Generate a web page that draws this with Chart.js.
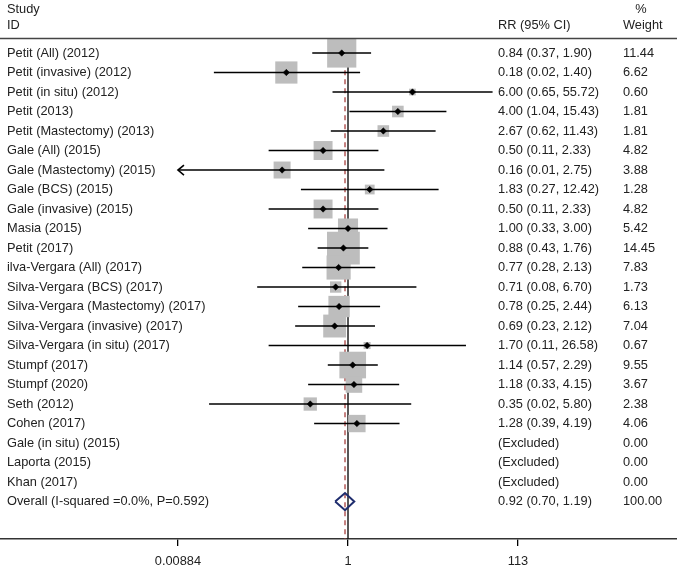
<!DOCTYPE html>
<html>
<head>
<meta charset="utf-8">
<script src="https://cdn.jsdelivr.net/npm/chart.js@4.4.1/dist/chart.umd.min.js"></script>
<style>
  html, body { margin: 0; padding: 0; background: #fff; }
  #wrap { width: 677px; height: 568px; }
</style>
</head>
<body>
<div id="wrap"><canvas id="forest"></canvas></div>
<script>
// Study rows (top to bottom)
const studies = [
  'Petit (All) (2012)', 'Petit (invasive) (2012)', 'Petit (in situ) (2012)', 'Petit (2013)',
  'Petit (Mastectomy) (2013)', 'Gale (All) (2015)', 'Gale (Mastectomy) (2015)', 'Gale (BCS) (2015)',
  'Gale (invasive) (2015)', 'Masia (2015)', 'Petit (2017)', 'ilva-Vergara (All) (2017)',
  'Silva-Vergara (BCS) (2017)', 'Silva-Vergara (Mastectomy) (2017)', 'Silva-Vergara (invasive) (2017)',
  'Silva-Vergara (in situ) (2017)', 'Stumpf (2017)', 'Stumpf (2020)', 'Seth (2012)', 'Cohen (2017)',
  'Gale (in situ) (2015)', 'Laporta (2015)', 'Khan (2017)'
];
// RR and 95% CI (null = excluded)
const rr    = [0.84, 0.18, 6.00, 4.00, 2.67, 0.50, 0.16, 1.83, 0.50, 1.00, 0.88, 0.77, 0.71, 0.78, 0.69, 1.70, 1.14, 1.18, 0.35, 1.28, null, null, null];
const lower = [0.37, 0.024, 0.65, 1.04, 0.62, 0.11, 0.008, 0.27, 0.11, 0.33, 0.43, 0.28, 0.08, 0.25, 0.23, 0.11, 0.57, 0.33, 0.021, 0.39, null, null, null];
const upper = [1.90, 1.40, 55.72, 15.43, 11.43, 2.33, 2.75, 12.42, 2.33, 3.00, 1.76, 2.13, 6.70, 2.44, 2.12, 26.58, 2.29, 4.15, 5.80, 4.19, null, null, null];
const weights = [11.44, 6.62, 0.60, 1.81, 1.81, 4.82, 3.88, 1.28, 4.82, 5.42, 14.45, 7.83, 1.73, 6.13, 7.04, 0.67, 9.55, 3.67, 2.38, 4.06, 0.00, 0.00, 0.00];

// Pooled estimate
const overallLabel = 'Overall (I-squared =0.0%, P=0.592)';
const overallRR = 0.92;
const overallLower = 0.70;
const overallUpper = 1.19;
const overallWeight = 100.00;

// Axis ticks
const xTicks = [0.00884, 1, 113];

const nRows = studies.length;            // overall sits in row nRows
const clipMin = xTicks[0];
const clipMax = xTicks[xTicks.length - 1];
const yMin = -2.718, yMax = 24.92;
const FONT = "'Liberation Sans', Arial, Helvetica, sans-serif";
const FSIZE = 12.8;

const fmt = v => v.toFixed(2);

// datasets
const datasets = [];

// null line at RR = 1
datasets.push({
  type: 'line', data: [{ x: 1, y: -0.5 }, { x: 1, y: yMax }],
  borderColor: '#111', borderWidth: 1.4, pointRadius: 0, order: 20
});
// dashed line at overall estimate
datasets.push({
  type: 'line', data: [{ x: overallRR, y: -0.5 }, { x: overallRR, y: yMax }],
  borderColor: '#a8403f', borderWidth: 1.3, borderDash: [5, 4], pointRadius: 0, order: 19
});
// weight boxes (area ~ weight)
datasets.push({
  type: 'scatter',
  data: rr.map((v, i) => v == null ? null : { x: v, y: i }).filter(Boolean),
  pointStyle: 'rect',
  pointRadius: rr.map((v, i) => 6.1 * Math.sqrt(weights[i])).filter((r, i) => rr[i] != null),
  pointBackgroundColor: '#bdbdbd', pointBorderWidth: 0, pointBorderColor: 'rgba(0,0,0,0)',
  order: 10
});
// CI whiskers
rr.forEach((v, i) => {
  if (v == null) return;
  datasets.push({
    type: 'line',
    data: [{ x: Math.max(lower[i], clipMin), y: i }, { x: Math.min(upper[i], clipMax), y: i }],
    borderColor: '#000', borderWidth: 1.6, pointRadius: 0, order: 5
  });
});
// point estimates
datasets.push({
  type: 'scatter',
  data: rr.map((v, i) => v == null ? null : { x: v, y: i }).filter(Boolean),
  pointStyle: 'rectRot', pointRadius: 3.2,
  pointBackgroundColor: '#000', pointBorderColor: '#000', pointBorderWidth: 0.5,
  order: 2
});
// overall diamond
datasets.push({
  type: 'line',
  data: [
    { x: overallLower, y: nRows }, { x: overallRR, y: nRows - 0.44 },
    { x: overallUpper, y: nRows }, { x: overallRR, y: nRows + 0.44 },
    { x: overallLower, y: nRows }
  ],
  borderColor: '#1f2d6e', borderWidth: 2, pointRadius: 0, fill: false, tension: 0, order: 1
});

// text columns, header, arrows
const tablePlugin = {
  id: 'table',
  afterDatasetsDraw(chart) {
    const ctx = chart.ctx;
    const xs = chart.scales.x, ys = chart.scales.y;
    // arrows for clipped intervals
    ctx.save();
    ctx.strokeStyle = '#000';
    ctx.lineWidth = 1.6;
    rr.forEach((v, i) => {
      if (v == null) return;
      const py = ys.getPixelForValue(i);
      if (lower[i] < clipMin) {
        const px = xs.getPixelForValue(clipMin);
        ctx.beginPath();
        ctx.moveTo(px + 6, py - 5); ctx.lineTo(px, py); ctx.lineTo(px + 6, py + 5);
        ctx.stroke();
      }
      if (upper[i] > clipMax) {
        const px = xs.getPixelForValue(clipMax);
        ctx.beginPath();
        ctx.moveTo(px - 6, py - 5); ctx.lineTo(px, py); ctx.lineTo(px - 6, py + 5);
        ctx.stroke();
      }
    });
    ctx.restore();
  },
  afterDraw(chart) {
    const ctx = chart.ctx;
    const ys = chart.scales.y;
    const W = chart.width;
    const colName = 7, colRR = 498, colW = 623;
    ctx.save();
    ctx.font = FSIZE + 'px ' + FONT;
    ctx.fillStyle = '#222';
    ctx.textBaseline = 'middle';
    ctx.textAlign = 'left';
    // header
    ctx.fillText('Study', colName, ys.getPixelForValue(-2.25));
    ctx.fillText('ID', colName, ys.getPixelForValue(-1.4));
    ctx.fillText('RR (95% CI)', colRR, ys.getPixelForValue(-1.4));
    ctx.fillText('Weight', colW, ys.getPixelForValue(-1.4));
    ctx.textAlign = 'center';
    ctx.fillText('%', 641, ys.getPixelForValue(-2.25));
    ctx.textAlign = 'left';
    // header rule
    ctx.strokeStyle = '#444';
    ctx.lineWidth = 1.4;
    const hy = Math.round(ys.getPixelForValue(-0.77)) + 0.5;
    ctx.beginPath(); ctx.moveTo(0, hy); ctx.lineTo(W, hy); ctx.stroke();
    // rows
    studies.forEach((s, i) => {
      const py = ys.getPixelForValue(i);
      ctx.fillText(s, colName, py);
      const ci = rr[i] == null ? '(Excluded)' : `${fmt(rr[i])} (${fmt(lower[i])}, ${fmt(upper[i])})`;
      ctx.fillText(ci, colRR, py);
      ctx.fillText(fmt(weights[i]), colW, py);
    });
    const oy = ys.getPixelForValue(nRows);
    ctx.fillText(overallLabel, colName, oy);
    ctx.fillText(`${fmt(overallRR)} (${fmt(overallLower)}, ${fmt(overallUpper)})`, colRR, oy);
    ctx.fillText(fmt(overallWeight), colW, oy);
    ctx.restore();
  }
};

new Chart(document.getElementById('forest'), {
  data: { datasets: datasets },
  options: {
    responsive: true,
    maintainAspectRatio: false,
    animation: false,
    layout: { padding: 0, autoPadding: false },
    plugins: { legend: { display: false }, tooltip: { enabled: false } },
    scales: {
      x: {
        type: 'logarithmic',
        min: 6.27e-5,
        max: 9400,
        afterBuildTicks: scale => { scale.ticks = xTicks.map(v => ({ value: v })); },
        afterFit: scale => { scale.paddingLeft = 0; scale.paddingRight = 0; scale.height = 29; },
        ticks: {
          autoSkip: false, maxRotation: 0, padding: 8,
          color: '#222', font: { family: FONT, size: FSIZE },
          callback: v => String(v)
        },
        grid: { drawOnChartArea: false, drawTicks: true, tickLength: 7, color: '#000', lineWidth: 1.3 },
        border: { display: true, color: '#333', width: 1.4 }
      },
      y: {
        type: 'linear', reverse: true, display: false,
        min: yMin, max: yMax
      }
    }
  },
  plugins: [tablePlugin]
});
</script>
</body>
</html>
